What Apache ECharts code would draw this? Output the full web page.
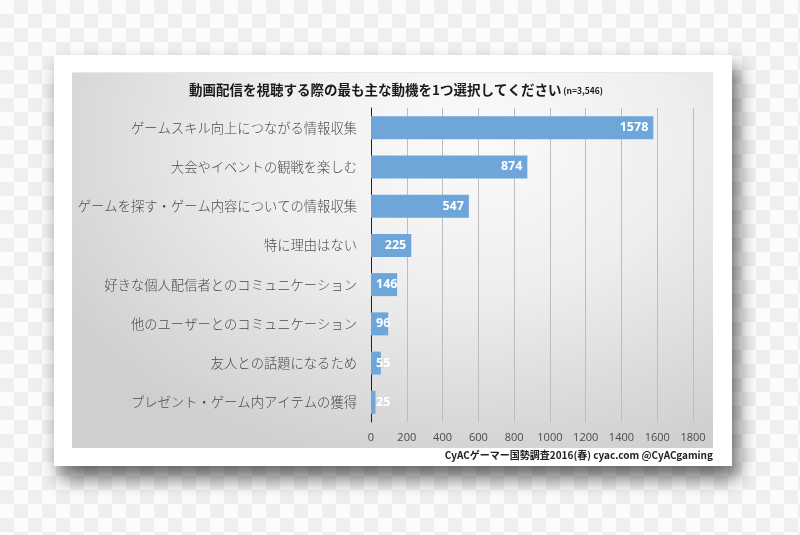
<!DOCTYPE html>
<html><head><meta charset="utf-8">
<script src="https://cdn.jsdelivr.net/npm/echarts@6/dist/echarts.min.js"></script>
<style>
html,body{margin:0;padding:0;width:800px;height:535px;overflow:hidden;}
body{background-color:#fcfcfc;background-image:repeating-conic-gradient(#efefef 0 25%, #fcfcfc 0 50%);background-size:28px 28px;position:relative;}
#card{position:absolute;left:54px;top:55px;width:678px;height:411px;background:#fff;box-shadow:6px 12px 18px rgba(0,0,0,0.6);}
#inner{position:absolute;left:72px;top:72px;width:641px;height:375px;background:radial-gradient(ellipse 75% 90% at 62% 18%, #fbfbfb 0%, #eeeeee 45%, #dadada 80%, #cfcfcf 100%);border-top:1px solid #e8e8e8;}
#chart{position:absolute;left:0;top:0;width:800px;height:535px;}
</style></head>
<body>
<div id="card"></div>
<div id="inner"></div>
<div id="chart"></div>
<script>
const categories = [
  "ゲームスキル向上につながる情報収集",
  "大会やイベントの観戦を楽しむ",
  "ゲームを探す・ゲーム内容についての情報収集",
  "特に理由はない",
  "好きな個人配信者とのコミュニケーション",
  "他のユーザーとのコミュニケーション",
  "友人との話題になるため",
  "プレゼント・ゲーム内アイテムの獲得"
];
const values = [1578, 874, 547, 225, 146, 96, 55, 25];
const xTicks = [0, 200, 400, 600, 800, 1000, 1200, 1400, 1600, 1800];
const titleMain = "動画配信を視聴する際の最も主な動機を1つ選択してください";
const titleNote = "(n=3,546)";
const footer = "CyACゲーマー国勢調査2016(春) cyac.com @CyACgaming";

const chart = echarts.init(document.getElementById('chart'), null, {renderer:'canvas'});
const data = values.map(v => {
  const item = {value: v};
  if (v < 200) {
    item.label = {position: 'insideLeft', distance: 5};
  }
  return item;
});
chart.setOption({
  backgroundColor: 'transparent',
  animation: false,
  title: {
    text: '{m|' + titleMain + '}{n| ' + titleNote + '}',
    left: 391, top: 78, textAlign: 'center',
    textStyle: {
      rich: {
        m: {fontFamily: '"Noto Sans CJK JP"', fontWeight: 'bold', fontSize: 13.5, color: '#1a1a1a'},
        n: {fontFamily: '"Noto Sans CJK JP"', fontWeight: 'bold', fontSize: 8.5, color: '#1a1a1a', padding:[2,0,0,0]}
      }
    }
  },
  graphic: [{
    type: 'text', right: 87, top: 450,
    style: {text: footer, font: 'bold 10px "Noto Sans CJK JP"', fill: '#222', textAlign: 'right'}
  }],
  grid: {left: 371, top: 108, width: 322, height: 314, containLabel: false},
  xAxis: {
    type: 'value', min: 0, max: 1800, interval: 200,
    axisLine: {show: false}, axisTick: {show: false},
    splitLine: {show: true, lineStyle: {color: '#bdbdbd', width: 1}},
    axisLabel: {
      color: '#4a4a4a', fontSize: 11, fontFamily: '"Open Sans", "Liberation Sans"', margin: 10,
      formatter: v => xTicks.indexOf(v) >= 0 ? String(v) : ''
    }
  },
  yAxis: {
    type: 'category', data: categories, inverse: true,
    axisLine: {show: true, lineStyle: {color: '#222', width: 1}},
    axisTick: {show: false},
    axisLabel: {color: '#4a4a4a', fontSize: 13.3, fontWeight: 300, fontFamily: '"Noto Sans CJK JP"', margin: 14}
  },
  series: [{
    type: 'bar', data: data, barWidth: 23,
    itemStyle: {color: '#6fa6da'},
    label: {
      show: true, position: 'insideRight', distance: 5,
      color: '#fff', fontWeight: 'bold', fontSize: 12.5, fontFamily: '"Open Sans", "Liberation Sans"'
    }
  }]
});
</script>
</body></html>
